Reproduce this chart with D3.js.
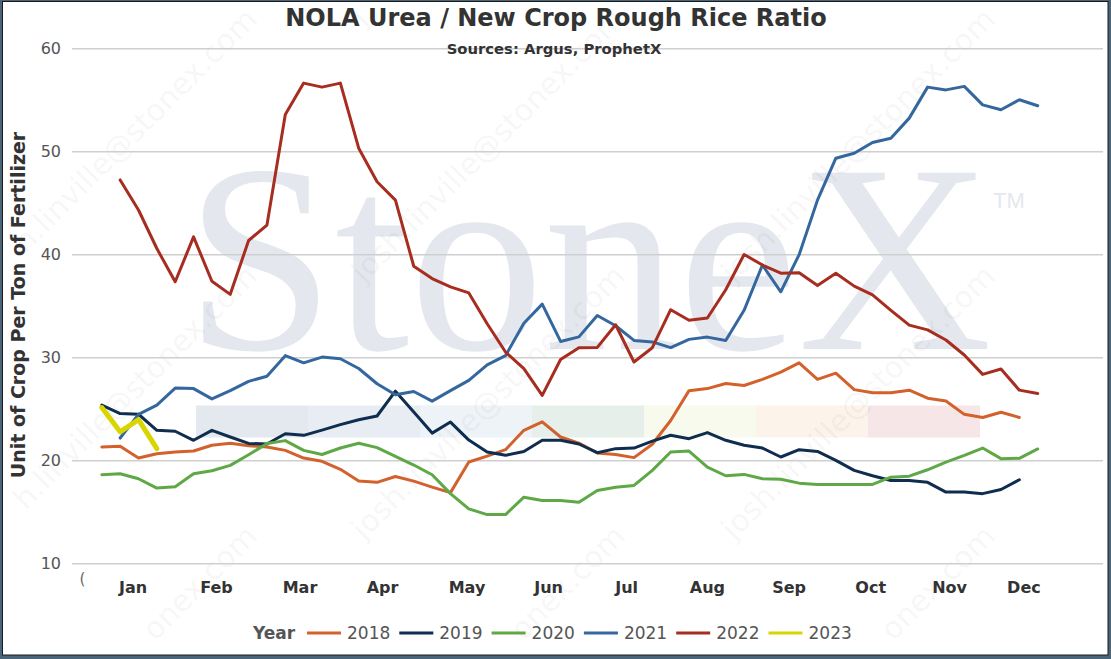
<!DOCTYPE html>
<html><head><meta charset="utf-8">
<script src="https://cdn.jsdelivr.net/npm/d3@7"></script>
<style>html,body{margin:0;padding:0;background:#4a6579;} svg{display:block;}</style>
</head><body><svg id="c" width="1111" height="659"></svg>
<script>
// ---------- data ----------
const title = "NOLA Urea / New Crop Rough Rice Ratio";
const subtitle = "Sources: Argus, ProphetX";
const yTitle = "Unit of Crop Per Ton of Fertilizer";
const yTicks = [10, 20, 30, 40, 50, 60];
const monthLabels = ["Jan","Feb","Mar","Apr","May","Jun","Jul","Aug","Sep","Oct","Nov","Dec"];
const monthTickWeeks = [2.7, 7.25, 11.8, 16.3, 20.9, 25.35, 29.6, 34.0, 38.45, 42.9, 47.2, 51.25];
const years = ["2018","2019","2020","2021","2022","2023"];
const colors = ["#d2612c","#0f2d4e","#5ea846","#35679f","#a62d1f","#d9d500"];
const startWeek = [1, 1, 1, 2, 2, 1];
const s2018 = [21.33,21.4,20.26,20.68,20.85,20.94,21.5,21.7,21.46,21.33,21.0,20.26,19.94,19.16,18.02,17.9,18.47,18.02,17.44,16.9,19.87,20.45,21.07,22.95,23.77,22.3,21.7,20.75,20.6,20.3,21.6,23.9,26.8,27.0,27.5,27.3,27.9,28.6,29.5,27.9,28.5,26.9,26.6,26.6,26.85,26.07,25.8,24.5,24.2,24.7,24.2];
const s2019 = [25.39,24.58,24.51,22.95,22.86,21.98,22.95,22.3,21.68,21.62,22.62,22.46,22.97,23.5,23.98,24.34,26.75,24.73,22.68,23.75,22.0,20.84,20.52,20.9,21.98,21.98,21.62,20.78,21.17,21.23,21.9,22.47,22.14,22.73,21.98,21.5,21.23,20.36,21.07,20.9,20.03,19.06,18.54,18.08,18.08,17.9,16.95,16.95,16.8,17.2,18.15];
const s2020 = [18.64,18.73,18.25,17.34,17.47,18.73,19.03,19.55,20.58,21.66,21.95,21.0,20.6,21.23,21.69,21.27,20.42,19.58,18.64,16.8,15.32,14.77,14.77,16.46,16.14,16.14,15.97,17.1,17.43,17.6,19.06,20.84,20.94,19.38,18.54,18.67,18.25,18.2,17.82,17.7,17.7,17.7,17.7,18.4,18.5,19.12,19.87,20.52,21.23,20.2,20.23,21.14];
const s2021 = [22.2,24.5,25.4,27.05,27.0,26.0,26.8,27.7,28.2,30.2,29.5,30.06,29.9,28.95,27.47,26.4,26.72,25.78,26.8,27.8,29.3,30.2,33.35,35.2,31.58,32.02,34.1,33.1,31.68,31.53,30.98,31.78,32.0,31.67,34.6,39.0,36.4,40.0,45.3,49.37,49.85,50.9,51.3,53.26,56.27,56.0,56.34,54.55,54.07,55.04,54.46];
const s2022 = [47.26,44.34,40.6,37.37,41.73,37.42,36.15,41.38,42.88,53.6,56.66,56.27,56.66,50.34,47.08,45.3,38.88,37.68,36.87,36.29,33.3,30.55,28.93,26.34,29.82,30.97,31.0,33.2,29.58,30.97,34.66,33.63,33.85,36.6,40.02,39.0,38.2,38.25,37.0,38.2,36.95,36.1,34.6,33.16,32.7,31.72,30.26,28.38,28.9,26.85,26.53];
const s2023 = [25.16,22.8,23.99,21.17];
const seriesValues = [s2018, s2019, s2020, s2021, s2022, s2023];
const bandColors = ["#e4e8ef","#e8edf4","#eef3f8","#e6efe9","#f9faee","#fcf4ea","#f7e6e8"];
const watermarkText = "josh.linville@stonex.com";

// ---------- layout ----------
const svg = d3.select("#c");
const plotL = 72, plotR = 1103;
const x = d3.scaleLinear().domain([1, 52]).range([101.8, 1037.7]);
const y = d3.scaleLinear().domain([10, 60]).range([563.7, 48.7]);
const FONT = "DejaVu Sans, Verdana, sans-serif";

// panel
svg.append("rect").attr("x", 2.5).attr("y", 1.5).attr("width", 1105.5).attr("height", 653.5)
  .attr("fill", "#fff").attr("stroke", "#1a1a1a").attr("stroke-width", 1);

const wm = svg.append("g");

// StoneX watermark
wm.append("text").attr("x", 185).attr("y", 349)
  .attr("font-family", "Liberation Serif, serif").attr("font-size", 269)
  .attr("fill", "#e4e8ee").text("StoneX");
wm.append("text").attr("x", 993).attr("y", 208)
  .attr("font-family", "Liberation Sans, Arial, sans-serif").attr("font-size", 22)
  .attr("fill", "#e4e8ee").text("TM");

// colored band
const bandX = d3.scaleLinear().domain([0, bandColors.length]).range([196, 980]);
wm.selectAll("rect.band").data(bandColors).join("rect").attr("class", "band")
  .attr("x", (d, i) => bandX(i)).attr("width", (d, i) => bandX(i + 1) - bandX(i))
  .attr("y", 405.5).attr("height", 32).attr("fill", d => d);

// email watermarks (only the part that falls inside the panel is kept)
const P = { x0: 4, y0: 3, x1: 1107, y1: 654 };
const wmFs = 30, k = Math.SQRT1_2;
const wmCols = [120, 488, 858, 1228], wmRows = [-112, 145, 402, 662];
wmCols.forEach(cx => wmRows.forEach(cy => {
  const t = wm.append("text").attr("transform", `translate(${cx},${cy}) rotate(-45)`)
    .attr("text-anchor", "middle").attr("dy", "0.35em")
    .attr("font-family", FONT).attr("font-size", wmFs)
    .attr("fill", "#000").attr("fill-opacity", 0.055).text(watermarkText);
  const node = t.node();
  const g = (lx, ly) => [cx + k * lx + k * ly, cy - k * lx + k * ly];
  const ins = ([gx, gy]) => gx >= P.x0 && gx <= P.x1 && gy >= P.y0 && gy <= P.y1;
  const ok = [];
  for (let i = 0; i < watermarkText.length; i++) {
    const s = node.getStartPositionOfChar(i), e = node.getEndPositionOfChar(i);
    const pts = [g(s.x, s.y - 0.78 * wmFs), g(e.x, e.y - 0.78 * wmFs), g(s.x, s.y + 0.25 * wmFs), g(e.x, e.y + 0.25 * wmFs)];
    ok.push(pts.every(ins));
  }
  const first = ok.indexOf(true), last = ok.lastIndexOf(true);
  if (first < 0) { t.remove(); return; }
  if (first === 0 && last === watermarkText.length - 1) return;
  const sx = node.getStartPositionOfChar(first).x;
  t.attr("text-anchor", "start").attr("x", sx).text(watermarkText.slice(first, last + 1));
}));

// gridlines
svg.append("g").selectAll("line").data(yTicks).join("line")
  .attr("x1", plotL).attr("x2", plotR).attr("y1", d => y(d)).attr("y2", d => y(d))
  .attr("stroke", "#cfcfcf").attr("stroke-width", 1.5);

// y labels
svg.append("g").selectAll("text").data(yTicks).join("text")
  .attr("x", 61).attr("y", d => y(d)).attr("dy", "0.36em").attr("text-anchor", "end")
  .attr("font-family", FONT).attr("font-size", 16)
  .attr("fill", "#555").text(d => d);

// x labels
svg.append("g").selectAll("text").data(monthLabels).join("text")
  .attr("x", (d, i) => x(monthTickWeeks[i])).attr("y", 593).attr("text-anchor", "middle")
  .attr("font-family", FONT).attr("font-size", 16).attr("font-weight", "bold")
  .attr("fill", "#333").text(d => d);
svg.append("text").attr("x", x(-0.05)).attr("y", 584).attr("text-anchor", "middle")
  .attr("font-family", FONT).attr("font-size", 15)
  .attr("fill", "#666").text("(");

// lines
const line = d3.line().defined(d => d.v != null).x(d => x(d.w)).y(d => y(d.v));
const series = years.map((yr, i) => ({
  year: yr, color: colors[i],
  pts: seriesValues[i].map((v, j) => ({ w: startWeek[i] + j, v }))
}));
svg.append("g").selectAll("path").data(series).join("path")
  .attr("d", d => line(d.pts)).attr("fill", "none")
  .attr("stroke", d => d.color).attr("stroke-width", d => d.year === "2023" ? 5 : 3)
  .attr("stroke-linejoin", "round").attr("stroke-linecap", "round");

// title
svg.append("text").attr("x", 556).attr("y", 26).attr("text-anchor", "middle")
  .attr("font-family", FONT).attr("font-size", 24).attr("font-weight", "bold")
  .attr("fill", "#333").text(title);
svg.append("text").attr("x", 554).attr("y", 54).attr("text-anchor", "middle")
  .attr("font-family", FONT).attr("font-size", 14.8).attr("font-weight", "bold")
  .attr("fill", "#333").text(subtitle);
svg.append("text").attr("transform", "translate(25,305) rotate(-90)").attr("text-anchor", "middle")
  .attr("font-family", FONT).attr("font-size", 19).attr("font-weight", "bold")
  .attr("fill", "#333").text(yTitle);

// legend
const lg = svg.append("g");
lg.append("text").attr("x", 253).attr("y", 639)
  .attr("font-family", FONT).attr("font-size", 17).attr("font-weight", "bold")
  .attr("fill", "#555").text("Year");
const li = lg.selectAll("g.item").data(series).join("g").attr("class", "item")
  .attr("transform", (d, i) => `translate(${307 + i * 92.3},633)`);
li.append("line").attr("x1", 0).attr("x2", 34).attr("stroke", d => d.color).attr("stroke-width", 3);
li.append("text").attr("x", 40).attr("y", 6)
  .attr("font-family", FONT).attr("font-size", 17)
  .attr("fill", "#555").text(d => d.year);
</script></body></html>
